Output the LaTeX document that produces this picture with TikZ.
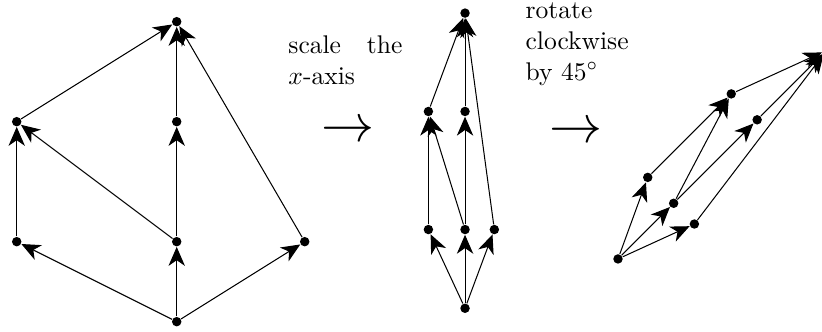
\documentclass[tikz,border=0pt]{standalone}
\usepackage{amsmath,amssymb}
\usepackage{tikz}
\usetikzlibrary{arrows.meta}

\begin{document}
\begin{tikzpicture}[
  x=1.1cm, y=1.1cm,
  font=\normalsize,
  >={Stealth[length=7.4pt, width=6.4pt, inset=2.2pt]},
  pdot/.style={circle, fill=black, inner sep=0pt, minimum size=3.7pt},
  cover/.style={->, line width=0.4pt},
  opnote/.style={anchor=north west, inner sep=0pt, text width=44.6pt, align=justify},
  oparrow/.style={inner sep=0pt, font=\huge}
]
  \useasboundingbox (-2.209,-0.129) rectangle (8.066,4.021);
  % original order
  \node[pdot] (bot1) at (0,0) {};
  \node[pdot] (lft1) at (-2,1) {};
  \node[pdot] (mid1) at (0,1) {};
  \node[pdot] (rgt1) at (1.6,1) {};
  \node[pdot] (ulft1) at (-2,2.5) {};
  \node[pdot] (umid1) at (0,2.5) {};
  \node[pdot] (top1) at (0,3.75) {};
  \draw[cover] (bot1) -- (lft1);
  \draw[cover] (bot1) -- (mid1);
  \draw[cover] (bot1) -- (rgt1);
  \draw[cover] (lft1) -- (ulft1);
  \draw[cover] (mid1) -- (ulft1);
  \draw[cover] (mid1) -- (umid1);
  \draw[cover] (umid1) -- (top1);
  \draw[cover] (ulft1) -- (top1);
  \draw[cover] (rgt1) -- (top1);
  % squeezed along x
  \begin{scope}[shift={(3.604,0.1675)}, xscale=0.229, yscale=0.984]
    \node[pdot] (bot2) at (0,0) {};
    \node[pdot] (lft2) at (-2,1) {};
    \node[pdot] (mid2) at (0,1) {};
    \node[pdot] (rgt2) at (1.6,1) {};
    \node[pdot] (ulft2) at (-2,2.5) {};
    \node[pdot] (umid2) at (0,2.5) {};
    \node[pdot] (top2) at (0,3.75) {};
  \end{scope}
  \draw[cover] (bot2) -- (lft2);
  \draw[cover] (bot2) -- (mid2);
  \draw[cover] (bot2) -- (rgt2);
  \draw[cover] (lft2) -- (ulft2);
  \draw[cover] (mid2) -- (ulft2);
  \draw[cover] (mid2) -- (umid2);
  \draw[cover] (umid2) -- (top2);
  \draw[cover] (ulft2) -- (top2);
  \draw[cover] (rgt2) -- (top2);
  % turned by 45 degrees
  \begin{scope}[shift={(5.516,0.784)}, rotate=-45, xscale=0.229, yscale=0.984]
    \node[pdot] (bot3) at (0,0) {};
    \node[pdot] (lft3) at (-2,1) {};
    \node[pdot] (mid3) at (0,1) {};
    \node[pdot] (rgt3) at (1.6,1) {};
    \node[pdot] (ulft3) at (-2,2.5) {};
    \node[pdot] (umid3) at (0,2.5) {};
    \node[pdot] (top3) at (0,3.75) {};
  \end{scope}
  \draw[cover] (bot3) -- (lft3);
  \draw[cover] (bot3) -- (mid3);
  \draw[cover] (bot3) -- (rgt3);
  \draw[cover] (lft3) -- (ulft3);
  \draw[cover] (mid3) -- (ulft3);
  \draw[cover] (mid3) -- (umid3);
  \draw[cover] (umid3) -- (top3);
  \draw[cover] (ulft3) -- (top3);
  \draw[cover] (rgt3) -- (top3);
  % the two steps
  \node[opnote] (scaletext) at (1.39,3.58) {scale the $x$-axis};
  \node[oparrow] (scalearrow) at (2.14,2.37) {$\rightarrow$};
  \node[opnote] (rotatetext) at (4.354,3.99) {rotate clockwise by $45^\circ$};
  \node[oparrow] (rotatearrow) at (4.99,2.36) {$\rightarrow$};
\end{tikzpicture}
\end{document}
